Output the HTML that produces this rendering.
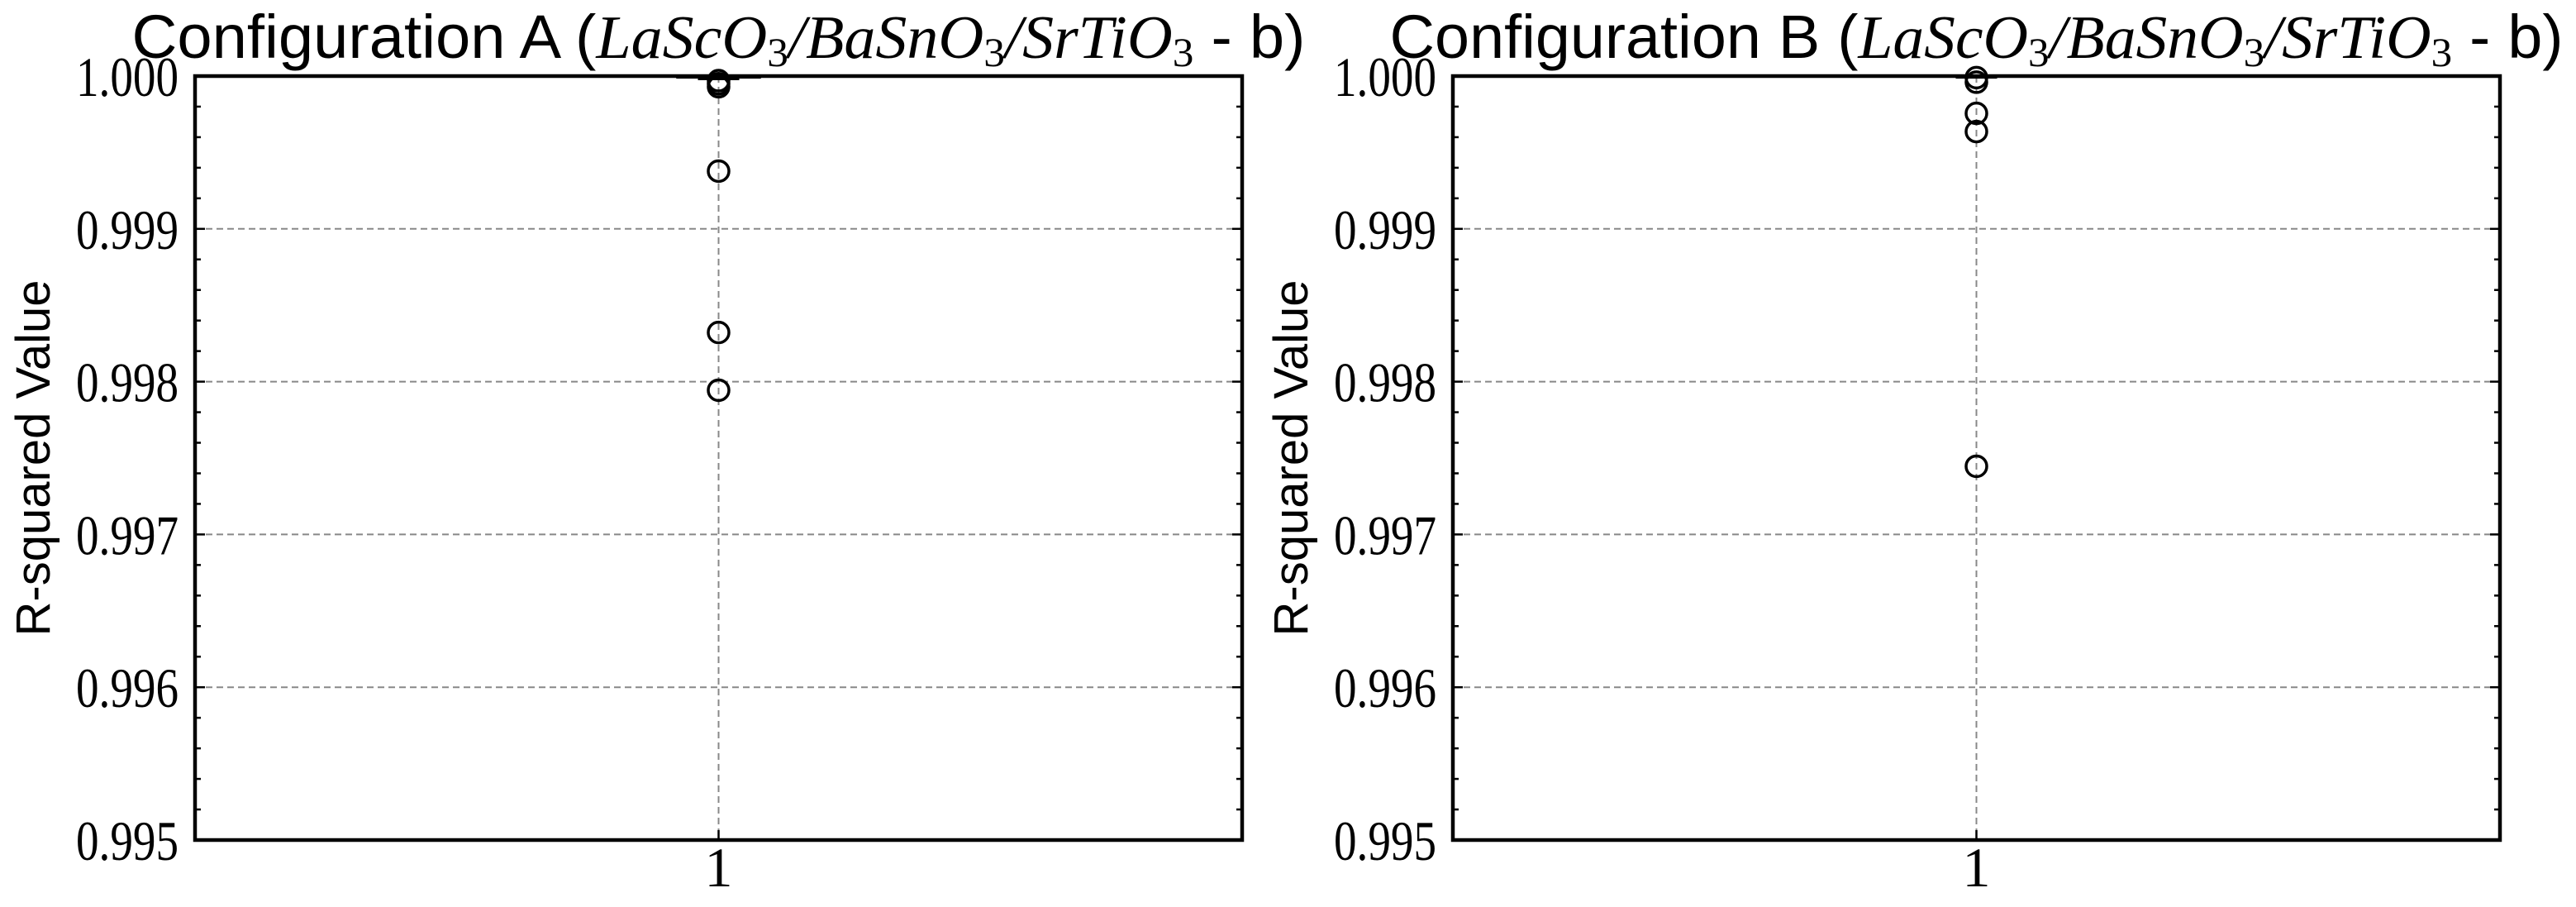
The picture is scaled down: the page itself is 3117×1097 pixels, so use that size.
<!DOCTYPE html>
<html><head><meta charset="utf-8"><style>
html,body{margin:0;padding:0;background:#fff;}
svg{display:block;}
</style></head><body>
<svg id="fig" width="3117" height="1097" viewBox="0 0 3117 1097" xmlns="http://www.w3.org/2000/svg"></svg>
<script>
const categories = ["1"];
const yTicks = [0.995, 0.996, 0.997, 0.998, 0.999, 1.000];
const yTickLabels = ["0.995", "0.996", "0.997", "0.998", "0.999", "1.000"];
const outliersA = [0.99995, 0.99993, 0.99997, 0.999378, 0.998322, 0.997944];
const outliersB = [0.99996, 0.99999, 0.999756, 0.999637, 0.997446];
const boxA = [0.99998, 0.99999, 1.0, 1.0, 1.0];
const boxB = [0.99999, 1.0, 1.0, 1.0, 1.0];
const titlesA = "Configuration A (";
const titlesB = "Configuration B (";

const NS = "http://www.w3.org/2000/svg";
const svg = document.getElementById('fig');
function mk(tag, attrs, parent){
  const e = document.createElementNS(NS, tag);
  for (const k in attrs) e.setAttribute(k, attrs[k]);
  (parent||svg).appendChild(e);
  return e;
}
const yMin = 0.995, yMax = 1.0;
const plotTop = 92, plotBottom = 1016;
function yScale(v){ return plotBottom - (v - yMin) / (yMax - yMin) * (plotBottom - plotTop); }

function panel(x0, x1, label, outs, box, id){
  const g = mk('g', {});
  
  
  const xc = (x0 + x1) / 2;
  function xScale(i){ return x0 + (i + 1) * (x1 - x0) / (categories.length + 1); }
  yTicks.forEach((t, i) => {
    if (i === 0 || i === yTicks.length - 1) return;
    const l = mk('line', {x1:x0, x2:x1, y1:yScale(t), y2:yScale(t), stroke:'#888', 'stroke-width':2, 'stroke-dasharray':'8,5'}, g);
    
    
  });
  categories.forEach((c, i) => {
    const l = mk('line', {x1:xScale(i), x2:xScale(i), y1:plotTop, y2:plotBottom, stroke:'#888', 'stroke-width':2, 'stroke-dasharray':'8,5'}, g);
    
    
  });
  for (let k = 0; k <= 25; k++) {
    const v = yMin + k * 0.0002;
    const y = yScale(v);
    const len = (k % 5 === 0) ? 12 : 7;
    mk('line', {x1:x0, x2:x0 + len, y1:y, y2:y, stroke:'#000', 'stroke-width':2.5}, g);
    mk('line', {x1:x1, x2:x1 - len, y1:y, y2:y, stroke:'#000', 'stroke-width':2.5}, g);
  }
  yTicks.forEach((t, i) => {
    const tx = mk('text', {x:x0 - 20, y:yScale(t) + 24, 'text-anchor':'end', 'font-family':'"Liberation Serif", serif', 'font-size':68, textLength:124, lengthAdjust:'spacingAndGlyphs'}, g);
    tx.textContent = yTickLabels[i];
    
    
  });
  categories.forEach((c, i) => {
    mk('line', {x1:xScale(i), x2:xScale(i), y1:plotBottom, y2:plotBottom - 12, stroke:'#000', 'stroke-width':2.5}, g);
    const tx = mk('text', {x:xScale(i), y:1072, 'text-anchor':'middle', 'font-family':'"Liberation Serif", serif', 'font-size':68}, g);
    tx.textContent = c;
    
    
    const bx = mk('rect', {x:xScale(i) - 50, y:yScale(box[3]), width:100, height:Math.max(0, yScale(box[1]) - yScale(box[3])), fill:'none', stroke:'#000', 'stroke-width':2.5}, g);
    
    
    const med = mk('line', {x1:xScale(i) - 50, x2:xScale(i) + 50, y1:yScale(box[2]), y2:yScale(box[2]), stroke:'#000', 'stroke-width':3}, g);
    
    
    const cap = mk('line', {x1:xScale(i) - 25, x2:xScale(i) + 25, y1:yScale(box[0]), y2:yScale(box[0]), stroke:'#000', 'stroke-width':2.5}, g);
    
    
    outs.forEach(v => {
      const ci = mk('circle', {cx:xScale(i), cy:yScale(v), r:12.5, fill:'none', stroke:'#000', 'stroke-width':3.5}, g);
      
      
    });
  });
  const sp = mk('rect', {x:x0, y:plotTop, width:x1 - x0, height:plotBottom - plotTop, fill:'none', stroke:'#000', 'stroke-width':4.5}, g);
  
  
  const yl = mk('text', {x:0, y:0, transform:'translate(' + (x0 - 176) + ',' + ((plotTop + plotBottom) / 2) + ') rotate(-90)', 'text-anchor':'middle', 'font-family':'"Liberation Sans", sans-serif', 'font-size':58}, g);
  yl.textContent = 'R-squared Value';
  
  
  const t = mk('text', {x:xc, y:70, 'text-anchor':'middle', 'font-family':'"Liberation Sans", sans-serif', 'font-size':74, textLength:1420, lengthAdjust:'spacingAndGlyphs'}, g);
  
  
  t.innerHTML = label + '<tspan font-family="Liberation Serif, serif" font-style="italic">LaScO<tspan font-style="normal" font-size="50" dy="10">3</tspan><tspan dy="-10">/BaSnO</tspan><tspan font-style="normal" font-size="50" dy="10">3</tspan><tspan dy="-10">/SrTiO</tspan><tspan font-style="normal" font-size="50" dy="10">3</tspan></tspan><tspan dy="-10"> - b)</tspan>';
}
panel(236, 1503, titlesA, outliersA, boxA, 'a');
panel(1758, 3025, titlesB, outliersB, boxB, 'b');
</script>
</body></html>
